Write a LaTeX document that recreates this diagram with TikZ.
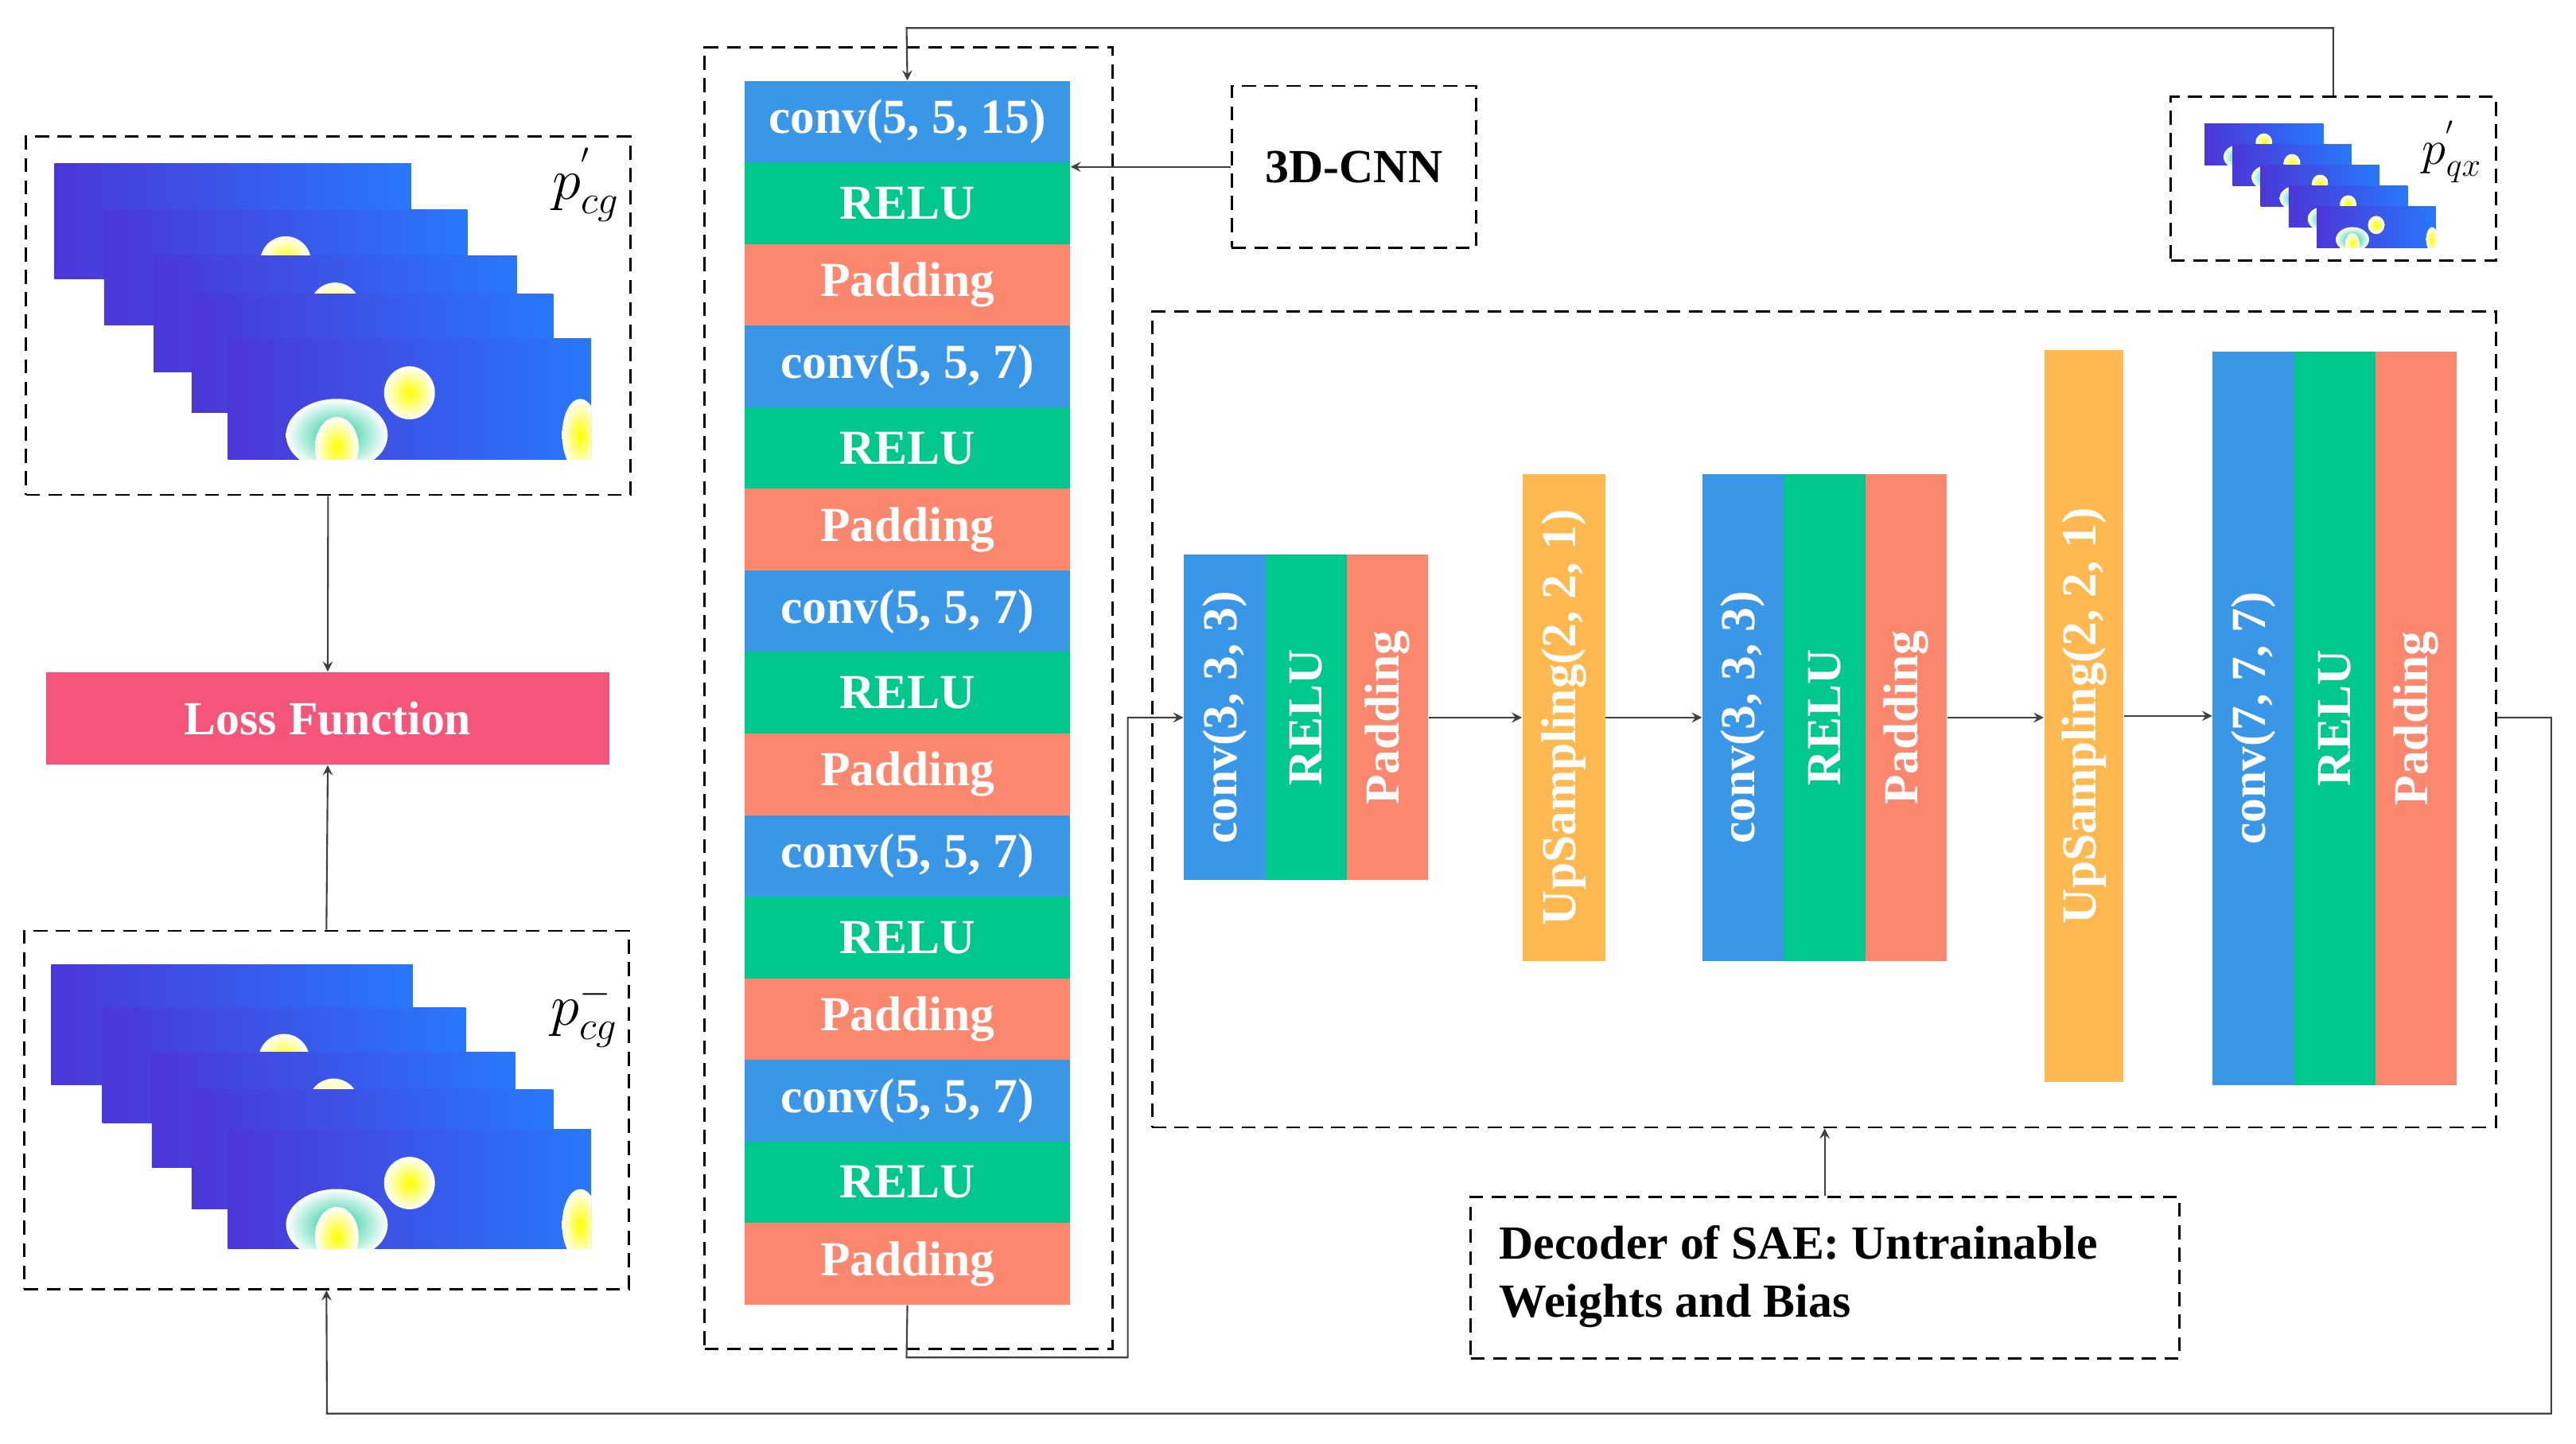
\documentclass[tikz,border=0pt]{standalone}
\usepackage{fontspec}
\setmainfont{Liberation Serif}
\begin{document}
\definecolor{cconv}{RGB}{58,150,230}
\definecolor{crelu}{RGB}{0,200,140}
\definecolor{cpad}{RGB}{250,135,110}
\definecolor{cup}{RGB}{255,185,80}
\definecolor{closs}{RGB}{245,85,120}
\definecolor{hpur}{RGB}{75,55,215}
\definecolor{hblu}{RGB}{40,120,250}
\definecolor{hgrn}{RGB}{20,200,150}
\begin{tikzpicture}[x=0.02075cm,y=-0.02075cm,
  dbox/.style={draw,dashed,line width=0.8pt,dash pattern=on 5pt off 3pt},
  lay/.style={draw=none,minimum width=197*0.02075cm,minimum height=49.4*0.02075cm,inner sep=0,text=white,font=\bfseries\fontsize{17.5}{20}\selectfont},
  arr/.style={->,>=stealth,line width=0.6pt,draw=black!75},
  txt/.style={font=\bfseries\fontsize{17}{20}\selectfont}]
\useasboundingbox (0,0) rectangle (1560,874);
\newcommand{\heat}[5]{%
  \begin{scope}
  \clip (#1,#2) rectangle ++(#3,#4);
  \shade[left color=hpur,right color=hblu] (#1,#2) rectangle ++(#3,#4);
  \ifnum#5>0
  \shade[inner color=hgrn,outer color=hblu!0] (#1+0.3*#3,#2+0.8*#4) ellipse ({0.14*#3} and {0.3*#4});
  \shade[inner color=yellow,outer color=hblu!0] (#1+0.5*#3,#2+0.45*#4) ellipse ({0.07*#3} and {0.22*#4});
  \shade[inner color=yellow,outer color=hblu!0] (#1+0.3*#3,#2+0.9*#4) ellipse ({0.06*#3} and {0.25*#4});
  \shade[inner color=yellow,outer color=hblu!0] (#1+0.97*#3,#2+0.8*#4) ellipse ({0.05*#3} and {0.3*#4});
  \fi
  \end{scope}}
% left top
\node[dbox,minimum width=366*0.02075cm,minimum height=217*0.02075cm,inner sep=0,anchor=north west] (top) at (15,82) {};
\heat{33}{99}{216}{70}{0}
\heat{63}{127}{220}{70}{1}
\heat{93}{155}{220}{70}{1}
\heat{116}{178}{219}{72}{0}
\heat{138}{205}{220}{73}{1}
\node at (355,112) {\fontsize{20}{24}\selectfont $p^{'}_{cg}$};
% loss
\node[fill=closs,minimum width=341*0.02075cm,minimum height=56*0.02075cm,inner sep=0,text=white,txt] (loss) at (198.5,435) {Loss Function};
% left bottom
\node[dbox,minimum width=366*0.02075cm,minimum height=217*0.02075cm,inner sep=0,anchor=north west] (bot) at (14,563) {};
\heat{31}{584}{219}{73}{0}
\heat{62}{610}{220}{70}{1}
\heat{92}{637}{220}{70}{1}
\heat{116}{660}{219}{72}{0}
\heat{138}{684}{220}{72}{1}
\node at (354,614) {\fontsize{20}{24}\selectfont $p^{-}_{cg}$};
\draw[arr] (top.south) -- (loss.north);
\draw[arr] (bot.north) -- (loss.south);
% encoder
\node[dbox,minimum width=247*0.02075cm,minimum height=788*0.02075cm,inner sep=0,anchor=north west] (enc) at (426,28) {};
\foreach \i/\t/\c in {0/{conv(5, 5, 15)}/cconv,1/RELU/crelu,2/Padding/cpad,3/{conv(5, 5, 7)}/cconv,4/RELU/crelu,5/Padding/cpad,6/{conv(5, 5, 7)}/cconv,7/RELU/crelu,8/Padding/cpad,9/{conv(5, 5, 7)}/cconv,10/RELU/crelu,11/Padding/cpad,12/{conv(5, 5, 7)}/cconv,13/RELU/crelu,14/Padding/cpad}
  \node[lay,fill=\c] (e\i) at (549.5,{49+49.4*\i+24.7}) {\t};
% 3D-CNN
\node[dbox,minimum width=148*0.02075cm,minimum height=98*0.02075cm,inner sep=0,txt] (cnn) at (820,101) {3D-CNN};
\draw[arr] (cnn.west) -- (e1.north east |- cnn.west);
% pqx
\node[dbox,minimum width=197*0.02075cm,minimum height=99*0.02075cm,inner sep=0,anchor=north west] (pqx) at (1314,58) {};
\foreach \k in {0,...,4}{\heat{1335+17*\k}{75+12.5*\k}{72}{25}{1}}
\node at (1485,92) {\fontsize{18}{22}\selectfont $p^{'}_{qx}$};
\coordinate (t1) at (1413,17);
\coordinate (t2) at (549,17);
\draw[arr] (pqx.north -| t1) -- (t1) -- (t2) -- (e0.north);
% decoder
\node[dbox,minimum width=814*0.02075cm,minimum height=494*0.02075cm,inner sep=0,anchor=north west] (dec) at (697,188) {};
\tikzset{vl/.style={draw=none,inner sep=0,text=white,rotate=90,font=\bfseries\fontsize{17.5}{20}\selectfont}}
\newcommand{\blk}[5]{% name, x, ytop, ybot, label
  \node[vl,fill=cconv,minimum width={(#4-#3)*0.02075cm},minimum height=49.3*0.02075cm] (#1a) at ({#2+24.65},{(#3+#4)/2}) {#5};
  \node[vl,fill=crelu,minimum width={(#4-#3)*0.02075cm},minimum height=49.3*0.02075cm] (#1b) at ({#2+73.95},{(#3+#4)/2}) {RELU};
  \node[vl,fill=cpad,minimum width={(#4-#3)*0.02075cm},minimum height=49.3*0.02075cm] (#1c) at ({#2+123.25},{(#3+#4)/2}) {Padding};}
\blk{b1}{717}{336}{533}{conv(3, 3, 3)}
\node[vl,fill=cup,minimum width=295*0.02075cm,minimum height=50*0.02075cm] (u1) at (947,434.5) {UpSampling(2, 2, 1)};
\blk{b2}{1031}{287}{582}{conv(3, 3, 3)}
\node[vl,fill=cup,minimum width=443*0.02075cm,minimum height=48*0.02075cm] (u2) at (1262,433.5) {UpSampling(2, 2, 1)};
\blk{b3}{1340}{213}{657}{conv(7, 7, 7)}
\draw[arr] (b1c.south) -- (u1.north |- b1c.south);
\draw[arr] (u1.south) -- (b2a.north |- u1.south);
\draw[arr] (b2c.south) -- (u2.north |- b2c.south);
\draw[arr] (u2.south) -- (b3a.north |- u2.south);
% encoder to decoder
\coordinate (c1) at (549,822);
\coordinate (c2) at (683,822);
\coordinate (c3) at (683,434.5);
\draw[arr] (e14.south) -- (c1) -- (c2) -- (c3) -- (b1a.north);
% output back
\coordinate (o1) at (1545,434.5);
\coordinate (o2) at (1545,856);
\coordinate (o3) at (198,856);
\draw[arr] (dec.east |- o1) -- (o1) -- (o2) -- (o3) -- (bot.south);
% SAE
\node[dbox,minimum width=429*0.02075cm,minimum height=98*0.02075cm,inner sep=0,anchor=north west] (sae) at (890,724) {};
\node[anchor=west,align=left,font=\bfseries\fontsize{17}{21}\selectfont] (saet) at (902,773) {Decoder of SAE: Untrainable\\Weights and Bias};
\draw[arr] (sae.north -| 1105,0) -- (dec.south -| 1105,0);
\end{tikzpicture}
\end{document}
